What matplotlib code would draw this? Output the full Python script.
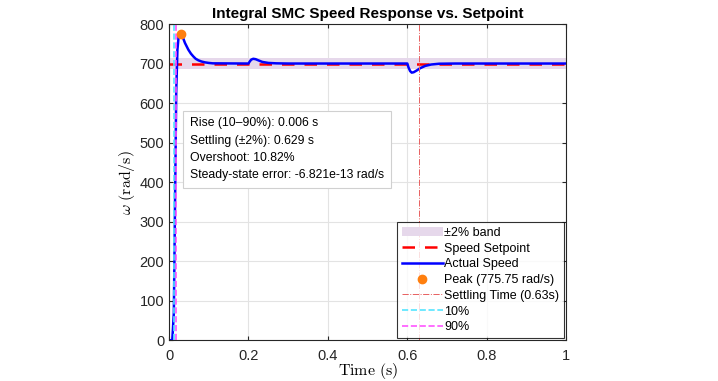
import numpy as np
import matplotlib
matplotlib.use('Agg')
import matplotlib.pyplot as plt

plt.rcParams['font.family'] = ['Liberation Sans', 'DejaVu Sans']
plt.rcParams['mathtext.fontset'] = 'cm'

# speed response
t = [0, 0.008, 0.0095, 0.012, 0.015, 0.018, 0.021, 0.024, 0.029, 0.034, 0.04,
     0.0485, 0.055, 0.061, 0.067, 0.074, 0.082, 0.09, 0.1, 0.11, 0.2, 0.203, 0.207,
     0.212, 0.218, 0.225, 0.235, 0.25, 0.27, 0.3, 0.6, 0.603, 0.607, 0.611, 0.616,
     0.623, 0.632, 0.645, 0.66, 0.68, 0.72, 1.0]
omega = [0, 0, 25, 70, 350, 630, 735, 768, 775.75, 768, 752,
         735, 725, 718, 712, 708, 705, 703, 701.5, 700.5, 700, 705, 710,
         712, 711, 708, 704, 701.5, 700.5, 700, 700, 690, 681, 677, 678,
         682, 688, 694, 697.5, 699.5, 700, 700]

setpoint = 700
band = 0.02
peak_t, peak_w = 0.029, 775.75
t_settle = 0.629
t10, t90 = 0.012, 0.018

stats = ['Rise (10\u201390%): 0.006 s',
         'Settling (\u00b12%): 0.629 s',
         'Overshoot: 10.82%',
         'Steady-state error: -6.821e-13 rad/s']

fig = plt.figure(figsize=(7.18, 3.81), dpi=100)
ax = fig.add_axes([0.2355, 0.107, 0.553, 0.83])

ax.axhspan(setpoint*(1-band), setpoint*(1+band), color='#e6d8eb', alpha=1,
           lw=0, label='\u00b12% band')
ax.plot([0, 1], [setpoint, setpoint], '--', color='#ff0000', lw=1.8,
        dashes=(5, 4), label='Speed Setpoint')
ax.plot(t, omega, color='#0000ff', lw=1.8, label='Actual Speed')
ax.plot(peak_t, peak_w, 'o', color='#ff7f0e', ms=6, label='Peak (775.75 rad/s)', zorder=5)
ax.axvline(t_settle, color='#e86060', lw=0.7, ls='-.', label='Settling Time (0.63s)')
ax.axvline(t10, color='#55e5ff', lw=1.2, ls='--', label='10%')
ax.axvline(t90, color='#ff55ff', lw=1.2, ls='--', label='90%')

ax.set_xlim(0, 1)
ax.set_ylim(0, 800)
ax.set_xticks(np.arange(0, 1.01, 0.2))
ax.set_xticklabels(['0', '0.2', '0.4', '0.6', '0.8', '1'])
ax.set_yticks(np.arange(0, 801, 100))
ax.grid(True, color='#e3e3e3', lw=0.8)
ax.set_axisbelow(True)
ax.tick_params(direction='in', top=True, right=True, labelsize=10.5,
               length=3, color='#262626', labelcolor='#262626')
ax.tick_params(axis='x', pad=6)
for s in ax.spines.values():
    s.set_color('#262626')
    s.set_linewidth(0.8)

ax.set_title('Integral SMC Speed Response vs. Setpoint', fontsize=11,
             fontweight='bold', pad=4)
ax.set_xlabel(r'$\mathrm{Time\ (s)}$', fontsize=11.5, labelpad=-1)
ax.set_ylabel(r'$\omega\ \mathrm{(rad/s)}$', fontsize=11.5, labelpad=2)

ax.text(0.052, 0.705, '\n'.join(stats), transform=ax.transAxes, fontsize=8.8,
        va='top', ha='left', linespacing=1.6,
        bbox=dict(boxstyle='square,pad=0.55', fc='white', ec='#d0d0d0', lw=0.8))

leg = ax.legend(loc='lower right', fontsize=9, frameon=True, fancybox=False,
                edgecolor='black', borderpad=0.4, labelspacing=0.3,
                handlelength=3.3, handletextpad=0.1, borderaxespad=0.15)
leg.get_frame().set_linewidth(0.8)

fig.savefig('out.png', dpi=100)
